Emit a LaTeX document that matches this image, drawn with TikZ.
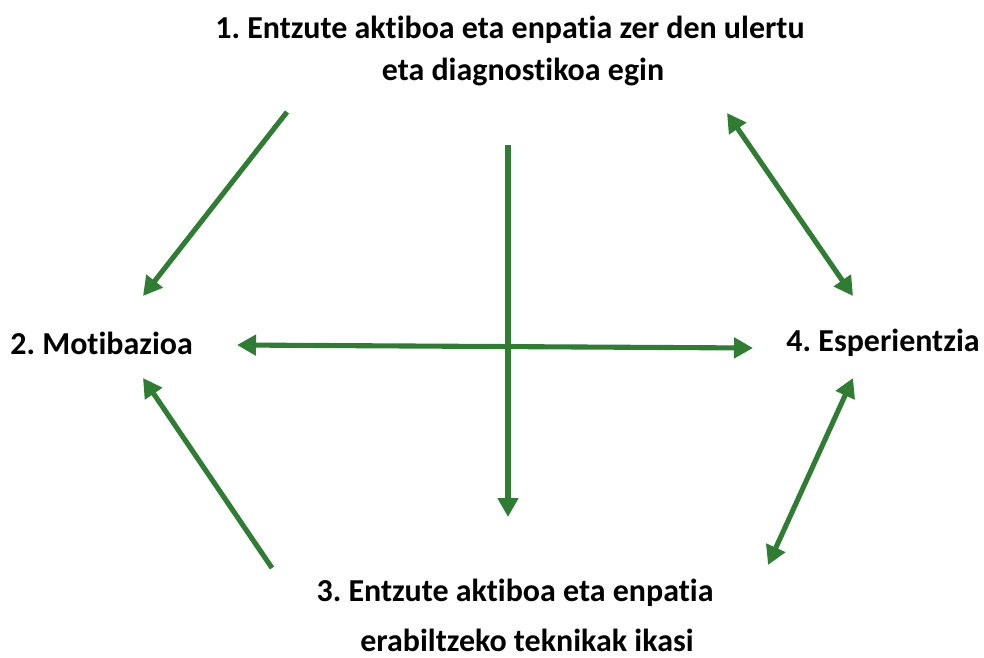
\documentclass[tikz,border=0pt]{standalone}
\usepackage{fontspec}
\setmainfont{Carlito}[Ligatures={NoCommon}]
\frenchspacing
\usetikzlibrary{arrows.meta}
\definecolor{vert}{RGB}{46,125,50}
\tikzset{
  label/.style={font=\fontsize{18.2}{22}\selectfont\bfseries, inner sep=0pt},
  fleche/.style={draw=vert, line width=2.9pt, -{Triangle[length=0.38cm,width=0.4cm]}},
  fleches/.style={fleche, {Triangle[length=0.38cm,width=0.4cm]}-{Triangle[length=0.38cm,width=0.4cm]}}
}
\begin{document}
\begin{tikzpicture}[x=0.02cm,y=-0.02cm]
\useasboundingbox (0,0) rectangle (984,657);

% Textes
\node[label] (un) at (510,30) {1. Entzute aktiboa eta enpatia zer den ulertu};
\node[label] (unb) at (523,72) {eta diagnostikoa egin};
\node[label, anchor=west] (deux) at (10,343) {2. Motibazioa};
\node[label] (trois) at (515,593) {3. Entzute aktiboa eta enpatia};
\node[label] (troisb) at (527,640) {erabiltzeko teknikak ikasi};
\node[label, anchor=east] (quatre) at (980,343) {4. Esperientzia};

% Extremites
\coordinate (a1) at (287,112);   \coordinate (b1) at (143,296);
\coordinate (a2) at (508,145);   \coordinate (b2) at (508,517);
\coordinate (a3) at (237,345);   \coordinate (b3) at (753,348);
\coordinate (a4) at (272,568);   \coordinate (b4) at (143,378);
\coordinate (a5) at (727,113);   \coordinate (b5) at (853,296);
\coordinate (a6) at (768,565);   \coordinate (b6) at (853,378);

% Fleches
\foreach \n in {1,2,4}
{
\draw[fleche] (a\n) -- (b\n);
}
\foreach \n in {3,5,6}
{
\draw[fleches] (a\n) -- (b\n);
}

\end{tikzpicture}
\end{document}
